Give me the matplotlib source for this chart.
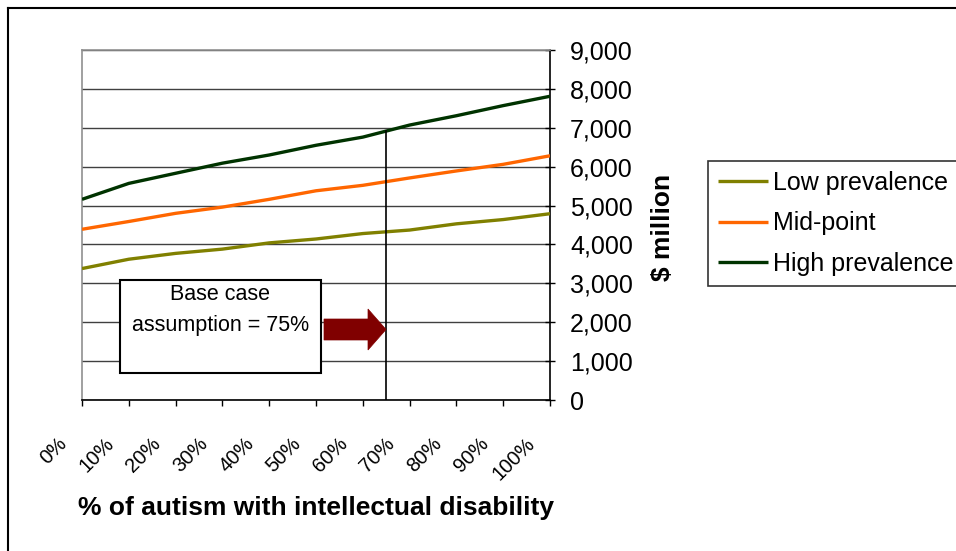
import matplotlib
matplotlib.use("Agg")
import matplotlib.pyplot as plt
import numpy as np
from matplotlib.transforms import ScaledTranslation
from matplotlib.patches import Rectangle, FancyArrow
from matplotlib.lines import Line2D
from matplotlib.ticker import FuncFormatter

plt.rcParams['font.family'] = ['Liberation Sans', 'DejaVu Sans']

categories = ["0%", "10%", "20%", "30%", "40%", "50%", "60%", "70%", "80%", "90%", "100%"]
low_prevalence = [3380, 3620, 3770, 3880, 4040, 4140, 4280, 4370, 4530, 4640, 4790]
mid_point = [4390, 4590, 4800, 4960, 5160, 5380, 5520, 5710, 5890, 6060, 6280]
high_prevalence = [5160, 5570, 5830, 6090, 6300, 6550, 6760, 7070, 7310, 7570, 7810]
series_names = ["Low prevalence", "Mid-point", "High prevalence"]
series_colors = ["#808000", "#FF6600", "#003300"]
yticks = [0, 1000, 2000, 3000, 4000, 5000, 6000, 7000, 8000, 9000]
base_case_pos = 6.5  # position of the vertical marker line (category index)

W, H = 956, 551
fig = plt.figure(figsize=(W / 100, H / 100), dpi=100)
ax = fig.add_axes([82 / W, 1 - 400 / H, (550 - 82) / W, (400 - 50) / H])

x = np.arange(len(categories))
handles = []
for vals, name, col in zip([low_prevalence, mid_point, high_prevalence], series_names, series_colors):
    h, = ax.plot(x, vals, color=col, lw=2.4, label=name, solid_capstyle='butt', zorder=3)
    handles.append(h)

ax.set_xlim(0, len(categories) - 1)
ax.set_ylim(0, 9000)
ax.set_xticks(x)
ax.set_xticklabels(categories, rotation=45, ha='right', va='top', fontsize=14.5)
ax.tick_params(axis='x', direction='out', length=4.5, width=1, pad=20, color='black')
for lab in ax.get_xticklabels():
    lab.set_transform(lab.get_transform() + ScaledTranslation(-11 / 100, 0, fig.dpi_scale_trans))

ax.yaxis.tick_right()
ax.set_yticks(yticks)
ax.yaxis.set_major_formatter(FuncFormatter(lambda v, p: f"{int(v):,}"))
ax.tick_params(axis='y', direction='inout', length=7, width=1, pad=11, labelsize=18, color='black')

ax.grid(axis='y', color='#404040', lw=1)
ax.set_axisbelow(True)
for s in ['top', 'left']:
    ax.spines[s].set_color('#909090')
    ax.spines[s].set_linewidth(1.2)
for s in ['bottom', 'right']:
    ax.spines[s].set_color('black')
    ax.spines[s].set_linewidth(1.2)

# vertical base case line up to the high prevalence series
top_val = np.interp(base_case_pos, x, high_prevalence)
ax.plot([base_case_pos, base_case_pos], [0, top_val], color='black', lw=1.2, zorder=4)

# text box (axes data coords)
def px2x(px):
    return (px - 82) / (550 - 82) * (len(categories) - 1)

def py2y(py):
    return (400 - py) / (400 - 50) * 9000

bx0, bx1, by0, by1 = px2x(120), px2x(321), py2y(373), py2y(280)
ax.add_patch(Rectangle((bx0, by0), bx1 - bx0, by1 - by0, facecolor='white',
                       edgecolor='black', lw=1.5, zorder=5))
ax.text((bx0 + bx1) / 2, py2y(295), "Base case", ha='center', va='center', fontsize=15.5, zorder=6)
ax.text((bx0 + bx1) / 2, py2y(325), "assumption = 75%", ha='center', va='center', fontsize=15.5, zorder=6)

# arrow in pixel geometry converted to data
ax0, ax1 = px2x(324), px2x(386)
ymid = py2y(329.5)
shaft_w = py2y(319) - py2y(340)
head_w = py2y(309) - py2y(350)
head_len = px2x(386) - px2x(368)
ax.add_patch(FancyArrow(ax0, ymid, ax1 - ax0, 0, width=shaft_w, head_width=head_w,
                        head_length=head_len, length_includes_head=True,
                        facecolor='#800000', edgecolor='#800000', lw=0.5, zorder=5))

# legend
leg = fig.legend(handles=handles, labels=series_names, loc='upper left',
                 bbox_to_anchor=(708 / W, 1 - 161 / H), frameon=True, fancybox=False,
                 fontsize=18, handlelength=2.0, handletextpad=0.2, borderpad=0.4,
                 labelspacing=0.65, borderaxespad=0)
leg.get_frame().set_edgecolor('black')
leg.get_frame().set_linewidth(1.2)

fig.text(663 / W, 1 - 227 / H, "$ million", rotation=90, ha='center', va='center',
         fontsize=19, fontweight='bold')
fig.text(316 / W, 1 - 508 / H, "% of autism with intellectual disability", ha='center',
         va='center', fontsize=19, fontweight='bold')

# outer chart border
fig.add_artist(Line2D([8 / W, 1], [1 - 8 / H, 1 - 8 / H], transform=fig.transFigure, color='black', lw=1.5))
fig.add_artist(Line2D([8 / W, 8 / W], [0, 1 - 8 / H], transform=fig.transFigure, color='black', lw=1.5))

fig.savefig("out.png", dpi=100)
